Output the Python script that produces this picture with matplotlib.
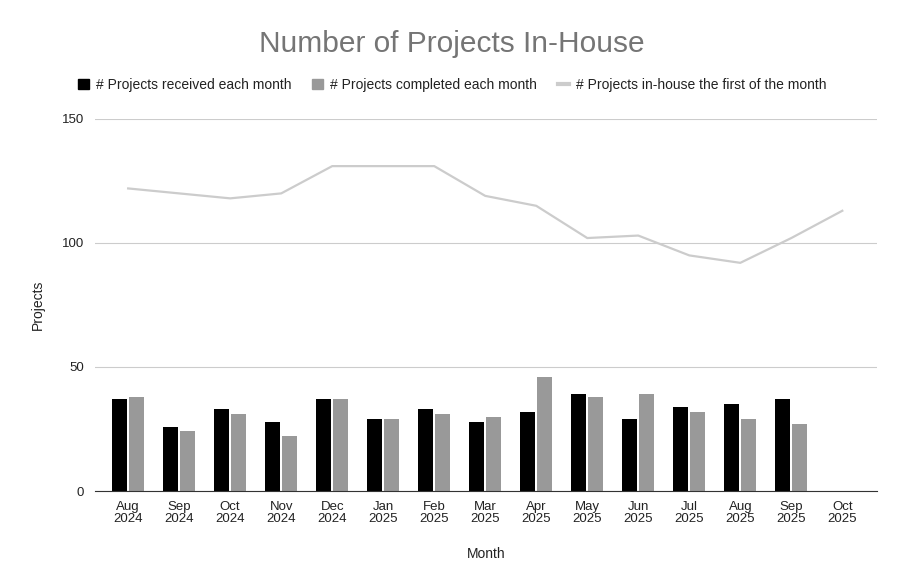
import numpy as np
import matplotlib.pyplot as plt
from matplotlib.lines import Line2D
from matplotlib.patches import Patch

plt.rcParams['font.family'] = ['Liberation Sans', 'DejaVu Sans']

months = ["Aug\n2024", "Sep\n2024", "Oct\n2024", "Nov\n2024", "Dec\n2024",
          "Jan\n2025", "Feb\n2025", "Mar\n2025", "Apr\n2025", "May\n2025",
          "Jun\n2025", "Jul\n2025", "Aug\n2025", "Sep\n2025", "Oct\n2025"]
received = [37, 26, 33, 28, 37, 29, 33, 28, 32, 39, 29, 34, 35, 37, np.nan]
completed = [38, 24, 31, 22, 37, 29, 31, 30, 46, 38, 39, 32, 29, 27, np.nan]
in_house = [122, 120, 118, 120, 131, 131, 131, 119, 115, 102, 103, 95, 92, 102, 113]

x = np.arange(len(months))

fig = plt.figure(figsize=(9.04, 5.87), dpi=100)
ax = fig.add_axes([95/904, 1 - 491/587, (877-95)/904, (491-119)/587])

w = 0.29
ax.bar(x - 0.167, received, w, color="#000000", zorder=3)
ax.bar(x + 0.167, completed, w, color="#999999", zorder=3)
ax.plot(x, in_house, color="#cccccc", lw=1.6, zorder=4)

ax.set_xlim(-0.65, 14.68)
ax.set_ylim(0, 150)
ax.set_yticks([0, 50, 100, 150])
ax.set_xticks(x)
ax.set_xticklabels(months, fontsize=9.5, linespacing=1.0)
ax.tick_params(axis='both', length=0, labelsize=9.5, colors="#222222")
ax.tick_params(axis='x', pad=7)
ax.tick_params(axis='y', pad=8)
ax.grid(axis='y', color="#cccccc", lw=0.8, zorder=0)
for s in ["top", "right", "left"]:
    ax.spines[s].set_visible(False)
ax.spines["bottom"].set_color("#333333")
ax.spines["bottom"].set_zorder(5)

ax.set_xlabel("Month", fontsize=10, color="#222222", labelpad=16)
ax.set_ylabel("Projects", fontsize=10, color="#222222", labelpad=12)

fig.text(0.5, 1 - 44/587, "Number of Projects In-House", ha="center", va="center",
         fontsize=21.5, color="#757575")

handles = [Patch(color="#000000"), Patch(color="#999999"),
           Line2D([0], [0], color="#cccccc", lw=3)]
labels = ["# Projects received each month", "# Projects completed each month",
          "# Projects in-house the first of the month"]
fig.legend(handles, labels, loc="center", bbox_to_anchor=(0.5, 1 - 85/587), ncol=3,
           frameon=False, fontsize=10, handlelength=0.8, handleheight=0.8,
           handletextpad=0.5, columnspacing=1.5, labelcolor="#222222")

fig.savefig("out.png", dpi=100)
